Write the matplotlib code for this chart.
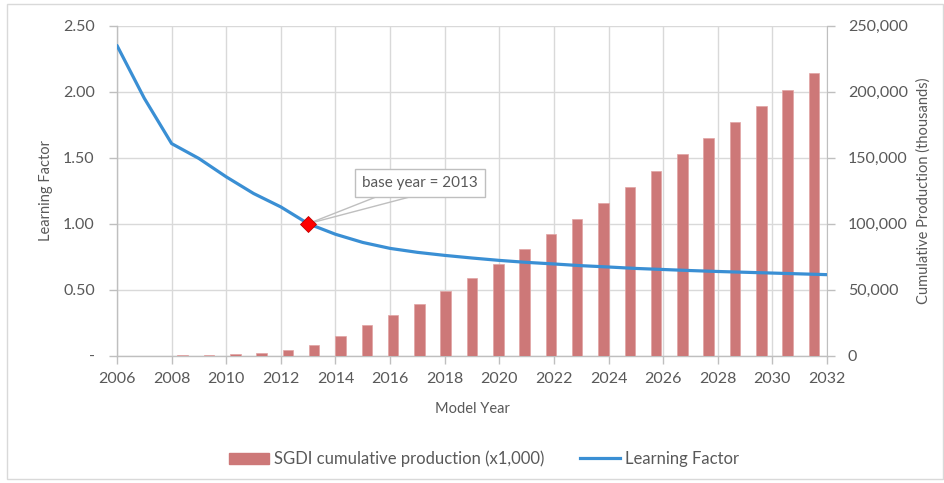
import matplotlib
matplotlib.use("Agg")
import matplotlib.pyplot as plt
from matplotlib.patches import Rectangle
from matplotlib.lines import Line2D
from matplotlib.patches import Patch
from matplotlib.ticker import FuncFormatter

plt.rcParams["font.family"] = ["Lato", "DejaVu Sans"]

# Model years and series
years = list(range(2006, 2033))
learning_factor = [2.35, 1.95, 1.607, 1.494, 1.355, 1.229, 1.127, 1.000,
                   0.920, 0.858, 0.813, 0.783, 0.760, 0.740, 0.722, 0.707,
                   0.695, 0.682, 0.672, 0.661, 0.653, 0.645, 0.638, 0.632,
                   0.626, 0.620, 0.614]
cumulative_production = [0, 0, 200, 500, 1300, 2300, 4300, 8100,
                         14900, 23500, 31100, 39100, 48700, 58800, 69400,
                         80800, 92400, 103800, 115600, 127500, 140200,
                         152600, 164900, 177000, 189400, 201500, 213900]
base_year = 2013
base_factor = learning_factor[years.index(base_year)]

x_ticks = list(range(2006, 2033, 2))
left_ticks = [0, 0.5, 1.0, 1.5, 2.0, 2.5]
right_ticks = [0, 50000, 100000, 150000, 200000, 250000]

TEXT = "#595959"
GRID = "#D9D9D9"
SPINE = "#BFBFBF"
BAR = "#CD7878"
LINE = "#3A8FD4"

W, H = 944, 483
fig = plt.figure(figsize=(W / 100, H / 100), dpi=100)

# chart border
fig.patches.append(Rectangle((7 / W, 4 / H), (W - 8) / W, (H - 8) / H,
                             transform=fig.transFigure, fill=False,
                             edgecolor="#D9D9D9", linewidth=1.0))

rect = [117 / W, (H - 355.7) / H, 710 / W, 330 / H]

# base axes: grid, year axis and learning-factor scale
ax = fig.add_axes(rect)
ax.set_xlim(2006, 2032)
ax.set_ylim(0, 2.5)
ax.set_xticks(x_ticks)
ax.set_yticks(left_ticks)
ax.yaxis.set_major_formatter(FuncFormatter(lambda v, p: "-" if v == 0 else f"{v:.2f}"))
ax.grid(True, color=GRID, linewidth=1.0)
for s in ["top", "right"]:
    ax.spines[s].set_visible(False)
for s in ["left", "bottom"]:
    ax.spines[s].set_color(SPINE)
    ax.spines[s].set_linewidth(1.0)
ax.tick_params(axis="both", colors=SPINE, labelcolor=TEXT, labelsize=11.5,
               length=6, width=1.0)
ax.tick_params(axis="y", pad=10)
ax.tick_params(axis="x", pad=6)
ax.set_ylabel("Learning Factor", color=TEXT, fontsize=10.5, labelpad=7)
ax.set_xlabel("Model Year", color=TEXT, fontsize=10.5, labelpad=11)

# bar axes: one category slot per model year
axb = fig.add_axes(rect)
axb.patch.set_visible(False)
axb.bar(range(len(years)), cumulative_production, width=0.4, color=BAR,
        edgecolor="#E2A3A3", linewidth=0.5, zorder=2)
axb.set_xlim(-0.5, len(years) - 0.5)
axb.set_ylim(0, 250000)
axb.set_xticks([])
axb.yaxis.tick_right()
axb.yaxis.set_label_position("right")
axb.set_yticks(right_ticks)
axb.yaxis.set_major_formatter(FuncFormatter(lambda v, p: f"{int(v):,}"))
for s in ["top", "left", "bottom"]:
    axb.spines[s].set_visible(False)
axb.spines["right"].set_color(SPINE)
axb.tick_params(axis="y", colors=SPINE, labelcolor=TEXT, labelsize=11.5,
                length=6, width=1.0, pad=9)
axb.set_ylabel("Cumulative Production (thousands)", color=TEXT, fontsize=10.5,
               labelpad=6)

# line axes on top
axl = fig.add_axes(rect)
axl.patch.set_visible(False)
axl.set_xlim(2006, 2032)
axl.set_ylim(0, 2.5)
axl.axis("off")
axl.plot(years, learning_factor, color=LINE, linewidth=2.3,
         solid_capstyle="round", zorder=3)
axl.plot([base_year], [base_factor], marker="D", markersize=8,
         color="#FF0000", markeredgecolor="#C00000", markeredgewidth=0.6,
         zorder=6, clip_on=False)
callout = axl.text(2017.09, 1.307, f"base year = {base_year}",
                   ha="center", va="center", fontsize=11, color=TEXT, zorder=5,
                   bbox=dict(boxstyle="square,pad=0.45", fc="white",
                             ec="#BFBFBF", lw=1.0))

# callout pointer: two lines from the box's lower edge to the base-year point
fig.canvas.draw()
renderer = fig.canvas.get_renderer()
bb = callout.get_bbox_patch().get_window_extent(renderer)
inv = axl.transData.inverted()
tip = axl.transData.transform((base_year, base_factor))
for frac in (0.16, 0.42):
    start = (bb.x0 + frac * bb.width, bb.y0)
    (x0, y0), (x1, y1) = inv.transform([start, tip])
    axl.plot([x0, x1], [y0, y1], color="#BFBFBF", linewidth=1.0, zorder=4)

handles = [Patch(facecolor=BAR, edgecolor=BAR),
           Line2D([0], [0], color=LINE, linewidth=2.3)]
labels = ["SGDI cumulative production (x1,000)", "Learning Factor"]
fig.legend(handles, labels, loc="center", bbox_to_anchor=(484 / W, 1 - 459 / H),
           ncol=2, frameon=False, fontsize=12, labelcolor=TEXT,
           handlelength=2.4, handleheight=0.7, handletextpad=0.3,
           columnspacing=2.15)

fig.savefig("out.png", dpi=100)
